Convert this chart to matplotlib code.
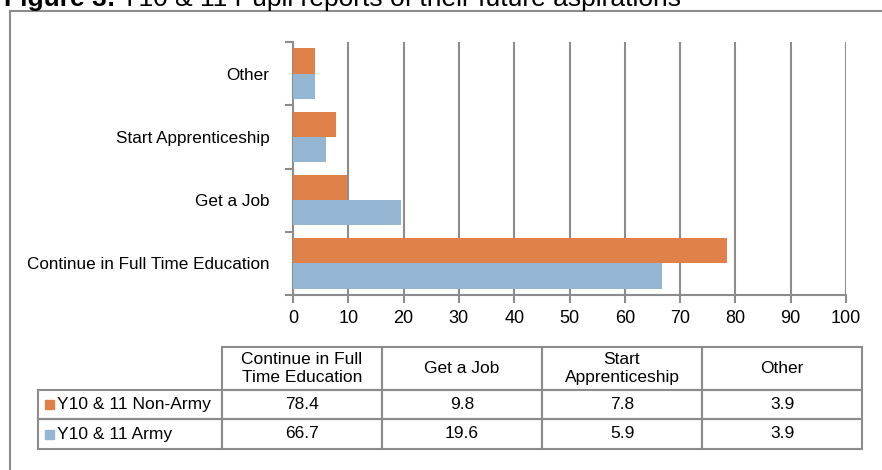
import matplotlib.pyplot as plt
from matplotlib.patches import Rectangle
from matplotlib.lines import Line2D

plt.rcParams['font.family'] = ['Liberation Sans', 'DejaVu Sans']

# data, bottom to top as drawn on the chart
categories = ['Continue in Full Time Education', 'Get a Job', 'Start Apprenticeship', 'Other']
table_headers = ['Continue in Full\nTime Education', 'Get a Job', 'Start\nApprenticeship', 'Other']
series = ['Y10 & 11 Non-Army', 'Y10 & 11 Army']
non_army = [78.4, 9.8, 7.8, 3.9]
army = [66.7, 19.6, 5.9, 3.9]
xticks = [0, 10, 20, 30, 40, 50, 60, 70, 80, 90, 100]

orange = '#DF8149'
blue = '#94B6D3'
grey = '#8C8C8C'
W, H = 882, 470

fig = plt.figure(figsize=(W / 100, H / 100), dpi=100)

# title, cut off at the top like the source image
t1 = fig.text(4 / W, 1 - 6 / H, 'Figure 3:', fontsize=19, fontweight='bold', va='baseline', ha='left')
fig.canvas.draw()
bb = t1.get_window_extent()
fig.text((bb.x1 + 6) / W, 1 - 6 / H, 'Y10 & 11 Pupil reports of their future aspirations', fontsize=19,
         va='baseline', ha='left')

# outer frame (left and top only visible)
fig.add_artist(Line2D([10 / W, 10 / W], [1 - 11 / H, 0], color=grey, lw=1.5, transform=fig.transFigure))
fig.add_artist(Line2D([10 / W, 1.0], [1 - 11 / H, 1 - 11 / H], color=grey, lw=1.5, transform=fig.transFigure))

# bar chart
ax = fig.add_axes([293 / W, 1 - 295 / H, (846 - 293) / W, (295 - 42) / H])
y = list(range(len(categories)))
h = 0.4
ax.barh([v + h / 2 for v in y], non_army, height=h, color=orange, label=series[0], zorder=3)
ax.barh([v - h / 2 for v in y], army, height=h, color=blue, label=series[1], zorder=3)
ax.set_xlim(0, 100)
ax.set_ylim(-0.5, len(categories) - 0.5)
ax.set_xticks(xticks)
ax.set_yticks(y)
ax.set_yticklabels(categories)
ax.set_yticks([v - 0.5 for v in range(len(categories) + 1)], minor=True)
ax.tick_params(axis='y', which='major', length=0, pad=17, labelsize=12.3)
ax.tick_params(axis='y', which='minor', length=6, width=1.5, color=grey)
ax.tick_params(axis='x', length=6, width=1.5, color=grey, labelsize=13, pad=5)
ax.grid(axis='x', color=grey, lw=1.5, zorder=0)
for s in ['top', 'right']:
    ax.spines[s].set_visible(False)
for s in ['left', 'bottom']:
    ax.spines[s].set_color(grey)
    ax.spines[s].set_linewidth(1.5)

# data table, drawn in pixel units
tx0, tx1, ty0, ty1 = 38, 863, 347, 449
tax = fig.add_axes([tx0 / W, 1 - ty1 / H, (tx1 - tx0) / W, (ty1 - ty0) / H])
tax.set_xlim(0, tx1 - tx0)
tax.set_ylim(ty1 - ty0, 0)
tax.axis('off')
label_w, col_w = 184, 160
row_tops = [0, 43, 72, 102]
rows = [non_army, army]
key_colors = [orange, blue]
cell_kw = dict(fill=False, edgecolor=grey, lw=1.5, clip_on=False)
for j, head in enumerate(table_headers):
    x = label_w + j * col_w
    tax.add_patch(Rectangle((x, row_tops[0]), col_w, row_tops[1] - row_tops[0], **cell_kw))
    tax.text(x + col_w / 2, (row_tops[0] + row_tops[1]) / 2, head, ha='center', va='center',
             fontsize=12.5, linespacing=1.25)
for i, vals in enumerate(rows):
    top, bot = row_tops[i + 1], row_tops[i + 2]
    yc = (top + bot) / 2
    tax.add_patch(Rectangle((0, top), label_w, bot - top, **cell_kw))
    tax.add_patch(Rectangle((7, yc - 4.5), 9, 9, color=key_colors[i], clip_on=False))
    tax.text(19, yc, series[i], ha='left', va='center', fontsize=12.5)
    for j, v in enumerate(vals):
        x = label_w + j * col_w
        tax.add_patch(Rectangle((x, top), col_w, bot - top, **cell_kw))
        tax.text(x + col_w / 2, yc, f'{v}', ha='center', va='center', fontsize=12.5)

fig.savefig('out.png', dpi=100)
